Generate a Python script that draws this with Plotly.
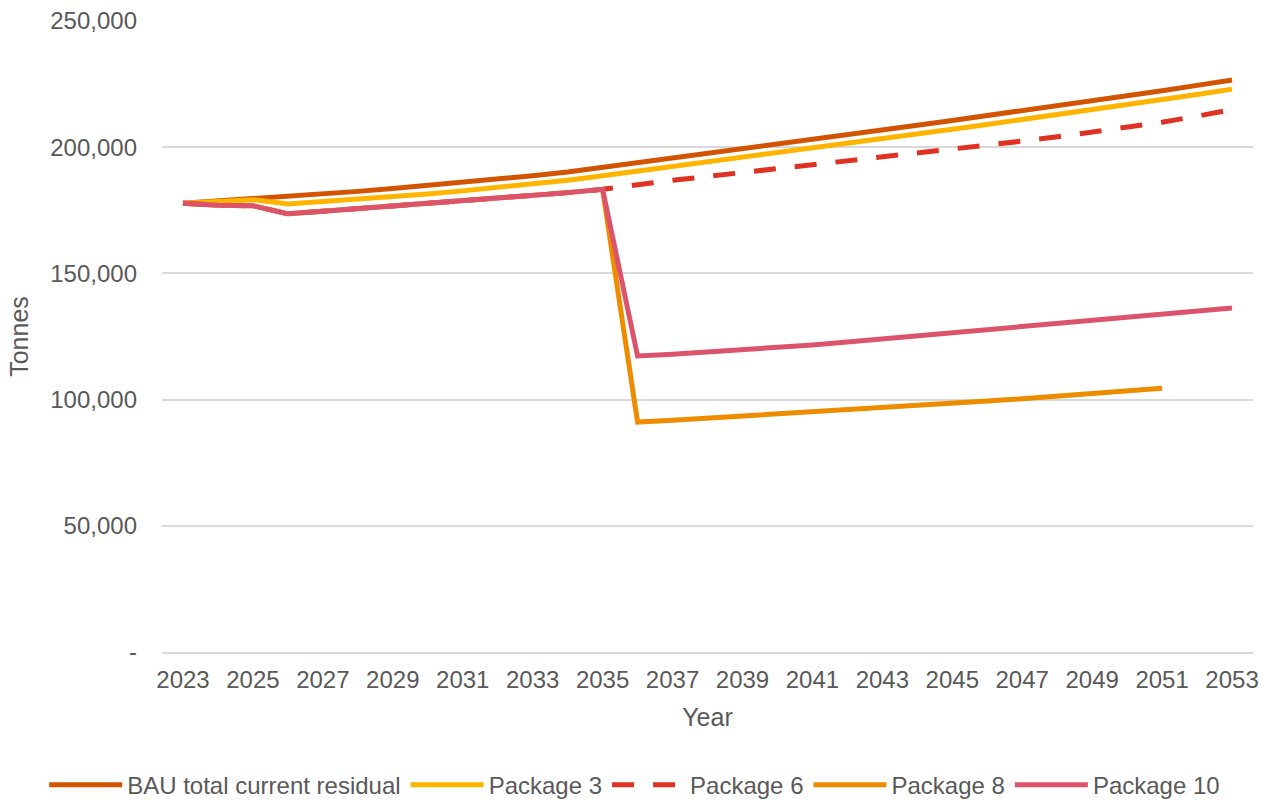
import plotly.graph_objects as go

## Data

years = list(range(2023, 2054))

bau = [177800, 178700, 179500, 180500, 181500, 182500, 183600, 184800, 186000, 187300,
       188700, 190200, 192000, 194000, 195800, 197700, 199600, 201500, 203300, 205100,
       206900, 208700, 210600, 212500, 214400, 216300, 218300, 220300, 222400, 224500, 226600]

package_3 = [177800, 178600, 179200, 177500, 178400, 179400, 180400, 181500, 182700, 184000,
             185400, 186900, 188700, 190500, 192300, 194200, 196100, 198000, 199800, 201600,
             203400, 205200, 207100, 209000, 210900, 212800, 214800, 216800, 218900, 220900, 223000]

package_6 = [177800, 177000, 176800, 173600, 174600, 175600, 176600, 177600, 178600, 179700,
             180800, 182000, 183300, 185300, 186900, 188400, 189900, 191400, 192900, 194400,
             195900, 197500, 199100, 200700, 202400, 204100, 205900, 207800, 209900, 212300, 214900]

package_8 = [177800, 177000, 176800, 173600, 174600, 175600, 176600, 177600, 178600, 179700,
             180800, 182000, 183300, 91100, 91800, 92600, 93500, 94300, 95100, 95900,
             96800, 97700, 98500, 99400, 100300, 101300, 102300, 103400, 104500, None, None]

package_10 = [177800, 177000, 176800, 173600, 174600, 175600, 176600, 177600, 178600, 179700,
              180800, 182000, 183300, 117300, 118000, 118800, 119600, 120400, 121600, 122800,
              124000, 125200, 126500, 127700, 129000, 130100, 131200, 132300, 133600, 134900, 136300]

series = [
    ("BAU total current residual", bau, "#D35400", "solid"),
    ("Package 3", package_3, "#FFB400", "solid"),
    ("Package 6", package_6, "#E03222", "dash"),
    ("Package 8", package_8, "#EE8C00", "solid"),
    ("Package 10", package_10, "#DC546C", "solid"),
]

y_ticks = [0, 50000, 100000, 150000, 200000, 250000]
y_tick_labels = ["-", "50,000", "100,000", "150,000", "200,000", "250,000"]
x_ticks = list(range(2023, 2054, 2))

FONT = "Liberation Sans, Arial, sans-serif"
GREY = "#595959"

## Plot

fig = go.Figure()

for name, values, color, dash in series:
    fig.add_trace(go.Scatter(
        x=years, y=values,
        mode="lines",
        name=name,
        line=dict(color=color, width=5, dash="22px,19px" if dash == "dash" else dash)))

fig.update_xaxes(
    title_text="Year",
    title_font=dict(size=25, color=GREY),
    tickfont=dict(size=24, color=GREY),
    tickvals=x_ticks,
    range=[2022.4, 2053.6],
    showgrid=False,
    showline=True,
    linecolor="#d9d9d9",
    linewidth=1.5,
    ticks="",
    ticklabelstandoff=5,
    ticklabeloverflow="allow",
    title_standoff=17)

fig.update_yaxes(
    title_text="Tonnes",
    title_font=dict(size=25, color=GREY),
    tickfont=dict(size=24, color=GREY),
    tickvals=y_ticks,
    ticktext=y_tick_labels,
    range=[0, 250000],
    gridcolor="#d9d9d9",
    gridwidth=1.5,
    zeroline=False,
    ticks="",
    ticklabelstandoff=24,
    ticklabeloverflow="allow",
    title_standoff=14)

# legend anchored left of the plot area so it may use the left margin too (one row)
fig.update_layout(
    width=1275,
    height=800,
    margin=dict(l=162, r=22, t=21, b=148, autoexpand=False),
    plot_bgcolor="white",
    paper_bgcolor="white",
    font=dict(family=FONT, color=GREY),
    legend=dict(
        orientation="h",
        x=-0.108, xanchor="left",
        y=-0.211, yanchor="middle",
        font=dict(size=24, color=GREY),
        itemwidth=73,
        tracegroupgap=0),
    showlegend=True)

# drop the default 8px body margin so the figure fills the window
fig.write_html("out.html",
               config={"displayModeBar": False},
               post_script="document.body.style.margin = '0';")
